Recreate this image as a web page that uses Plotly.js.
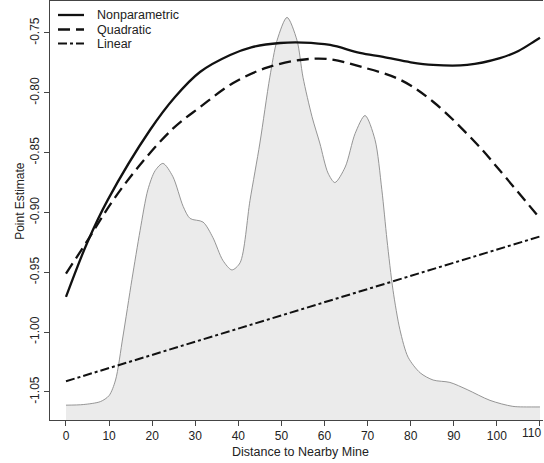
<!DOCTYPE html>
<html>
<head>
<meta charset="utf-8">
<script src="https://cdn.plot.ly/plotly-3.0.1.min.js"></script>
<style>
html, body { margin: 0; padding: 0; background: #ffffff; overflow: hidden; }
#chart { width: 544px; height: 463px; }
</style>
</head>
<body>
<div id="chart"></div>
<script>
// Nonparametric estimate (solid)
const nonparamX = [0, 4.9, 9.7, 19.5, 25.3, 31.1, 38.1, 43, 49.7, 55, 61.3, 68.2, 73.6, 80, 85.2, 93.1, 100.7, 105, 108.8, 110];
const nonparamY = [-0.9706, -0.9255, -0.8895, -0.8311, -0.8035, -0.7826, -0.7684, -0.762, -0.7584, -0.758, -0.760, -0.7667, -0.770, -0.7745, -0.7767, -0.7767, -0.771, -0.765, -0.7567, -0.754];

// Quadratic estimate (dashed)
const quadX = [0, 4.9, 10.7, 17, 24.8, 31.1, 38.7, 46.6, 54.3, 60.6, 68.2, 77.5, 85.2, 95.4, 100.7, 110];
const quadY = [-0.951, -0.924, -0.891, -0.861, -0.830, -0.812, -0.792, -0.779, -0.7726, -0.7717, -0.778, -0.789, -0.8075, -0.843, -0.865, -0.905];

// Linear estimate (dash-dot)
const linX = [0, 110];
const linY = [-1.041, -0.920];

// Density of distances (grey silhouette, drawn on the estimate scale)
const densX = [0, 4, 8, 10, 11.5, 13.2, 15.3, 17.2, 19.0, 20.7, 22.5, 24.8, 27.2, 28.8, 31.8, 34.1, 36.4, 38.5, 40.4, 42.7, 45.0, 47.3, 49.0, 51.3, 53.6, 55.0, 57.1, 58.9, 60.8, 62.4, 64.8, 67.1, 69.4, 71.7, 73.3, 74.5, 75.9, 77.5, 79.4, 82.2, 85.2, 89.1, 93.1, 98.4, 103.7, 108.4, 110];
const densY = [-1.061, -1.0605, -1.058, -1.053, -1.040, -1.004, -0.956, -0.915, -0.881, -0.865, -0.859, -0.870, -0.895, -0.905, -0.908, -0.921, -0.940, -0.948, -0.942, -0.890, -0.842, -0.787, -0.756, -0.737, -0.756, -0.787, -0.820, -0.842, -0.867, -0.875, -0.862, -0.834, -0.819, -0.839, -0.881, -0.923, -0.965, -0.998, -1.021, -1.034, -1.040, -1.042, -1.048, -1.057, -1.062, -1.0625, -1.0625];

// Axis settings
const xRange = [-3.71, 110.7];
const yRange = [-1.0734, -0.7233];
const xTicks = [0, 10, 20, 30, 40, 50, 60, 70, 80, 90, 100, 110];
const xTickText = ["0", "10", "20", "30", "40", "50", "60", "70", "80", "90", "100", "110"];
const yTicks = [-1.05, -1.00, -0.95, -0.90, -0.85, -0.80, -0.75];
const yTickText = ["-1.05", "-1.00", "-0.95", "-0.90", "-0.85", "-0.80", "-0.75"];

// Legend entries
const legendNames = ["Nonparametric", "Quadratic", "Linear"];
const legendDashes = ["solid", "12px,6px", "9px,3px,3px,3px"];
const legendWidths = [2.3, 2.3, 2.0];

const FONT = "Liberation Sans, Arial, Helvetica, sans-serif";
const TXT = "#222222";
const INK = "#111111";

const traces = [
  { x: [densX[0], densX[densX.length - 1]], y: [yRange[0], yRange[0]], mode: "lines",
    line: { width: 0, color: "rgba(0,0,0,0)" }, showlegend: false, hoverinfo: "skip" },
  { x: densX, y: densY, mode: "lines", fill: "tonexty", fillcolor: "#ebebeb",
    line: { color: "#8a8a8a", width: 0.9, shape: "spline", smoothing: 0.8 },
    showlegend: false, hoverinfo: "skip" },
  { x: nonparamX, y: nonparamY, mode: "lines", name: legendNames[0], showlegend: false,
    line: { color: INK, width: legendWidths[0], shape: "spline", smoothing: 1 } },
  { x: quadX, y: quadY, mode: "lines", name: legendNames[1], showlegend: false,
    line: { color: INK, width: legendWidths[1], dash: legendDashes[1], shape: "spline", smoothing: 1 } },
  { x: linX, y: linY, mode: "lines", name: legendNames[2], showlegend: false,
    line: { color: INK, width: legendWidths[2], dash: legendDashes[2] } }
];

// Manual legend (R-style tight spacing) in paper coordinates
const plotL = 50, plotW = 493, plotB = 420, plotH = 419;
const px2x = p => (p - plotL) / plotW;
const py2y = p => (plotB - p) / plotH;
const legendRowsPx = [15, 29.5, 43.5];
const legendShapes = legendNames.map((n, i) => ({
  type: "line", xref: "paper", yref: "paper",
  x0: px2x(58), x1: px2x(84), y0: py2y(legendRowsPx[i]), y1: py2y(legendRowsPx[i]),
  line: { color: INK, width: legendWidths[i], dash: legendDashes[i] }
}));
const legendAnn = legendNames.map((n, i) => ({
  text: n, xref: "paper", yref: "paper",
  x: px2x(95), y: py2y(legendRowsPx[i]), xanchor: "left", yanchor: "middle",
  showarrow: false, font: { family: FONT, size: 12.5, color: TXT }
}));

// Last x tick label sits at the window edge: draw it right-aligned to its tick so it stays inside
const lastIdx = xTicks.length - 1;
const shownTickText = xTickText.map((t, i) => (i === lastIdx ? "" : t));
const edgeTickAnn = {
  text: xTickText[lastIdx], xref: "x", yref: "paper",
  x: xTicks[lastIdx], y: py2y(433), xanchor: "right", yanchor: "middle", xshift: 3,
  showarrow: false, font: { family: FONT, size: 12, color: TXT }
};

const layout = {
  width: 544, height: 463,
  margin: { l: 50, r: 1, t: 1, b: 43 },
  paper_bgcolor: "#ffffff", plot_bgcolor: "#ffffff",
  font: { family: FONT, size: 12, color: TXT },
  showlegend: false,
  xaxis: {
    range: xRange, tickvals: xTicks, ticktext: shownTickText,
    showgrid: false, zeroline: false,
    showline: true, linecolor: "#444444", linewidth: 1, mirror: true,
    ticks: "outside", ticklen: 5, tickcolor: "#444444", tickwidth: 1,
    tickfont: { family: FONT, size: 12, color: TXT }
  },
  yaxis: {
    range: yRange, tickvals: yTicks, ticktext: yTickText,
    showgrid: false, zeroline: false,
    showline: true, linecolor: "#444444", linewidth: 1,
    ticks: "outside", ticklen: 5, tickcolor: "#444444", tickwidth: 1,
    tickangle: -90,
    tickfont: { family: FONT, size: 12, color: TXT }
  },
  shapes: legendShapes,
  annotations: [
    { text: "Distance to Nearby Mine", xref: "paper", yref: "paper",
      x: 0.509, y: -0.0764, xanchor: "center", yanchor: "middle",
      showarrow: false, font: { family: FONT, size: 12.5, color: TXT } },
    { text: "Point Estimate", xref: "paper", yref: "paper",
      x: -0.0609, y: 0.523, xanchor: "center", yanchor: "middle", textangle: -90,
      showarrow: false, font: { family: FONT, size: 12, color: TXT } },
    edgeTickAnn
  ].concat(legendAnn)
};

Plotly.newPlot("chart", traces, layout, { displayModeBar: false, staticPlot: true });
</script>
</body>
</html>
